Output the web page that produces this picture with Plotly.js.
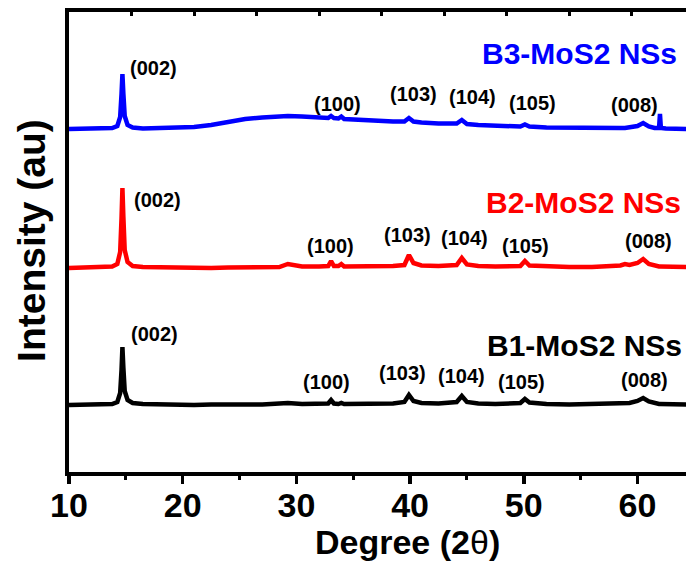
<!DOCTYPE html>
<html>
<head>
<meta charset="utf-8">
<script src="https://cdn.plot.ly/plotly-3.0.1.min.js"></script>
<style>html,body{margin:0;padding:0;background:#fff;}#chart{width:686px;height:564px;}</style>
</head>
<body>
<div id="chart"></div>
<script>
// 2-theta grid (degrees)
const twoTheta = [10, 11, 12, 13, 13.8, 14.25, 14.5, 14.62, 14.7, 14.78, 14.9, 15.15, 15.6, 16.5, 18, 19.5, 21, 22.5, 24, 25.5, 27, 28.5, 29.25, 30.5, 32, 32.8, 33.05, 33.3, 33.7, 33.95, 34.2, 35.5, 37, 38.5, 39.5, 39.9, 40.3, 41, 42.5, 44.1, 44.55, 45.0, 46, 47.5, 49.7, 50.1, 50.5, 52, 54, 56, 57.5, 58.5, 58.9, 59.3, 60.0, 60.5, 61.0, 61.5, 61.9, 61.98, 62.06, 62.5, 63.5, 64.3];

// intensities (a.u.) above each pattern's own baseline
const b1Intensity = [0, 0.5, 0, 0.5, 1, 3, 12, 35, 58, 38, 14, 5, 2, 1, 0.5, 0.5, 0, 0.5, 0, 0.5, 0.5, 1, 2, 1, 1, 1.5, 5, 1.5, 1, 2, 1, 1, 1, 1.5, 3, 10, 4, 2, 1.5, 3, 9, 3, 1.5, 1, 2, 6, 2.5, 1, 0.5, 1, 1, 1.5, 2, 2, 4, 7, 3.5, 1.5, 1, 1, 1, 0.5, 0.5, 0.5];
const b2Intensity = [0, 0.5, 0, 0.5, 1.5, 4, 16, 50, 80, 52, 18, 6, 2, 1, 0.5, 0, 0.5, 0, 0.5, 0.5, 0.5, 1, 4, 1.5, 1.5, 2, 7, 2, 2, 4, 1.5, 1.5, 1.5, 2, 3, 13, 5, 2.5, 2, 3, 10, 3.5, 2, 1.5, 2, 7, 2.5, 1.5, 1, 1, 1.5, 2.5, 4, 3, 5, 9, 4, 2, 1.5, 1.5, 1.5, 1, 1, 1];
const b3Intensity = [0, 0, 0.5, 0, 1, 3, 12, 35, 55, 36, 13, 4, 1.5, 0.5, 1, 1, 2, 4, 7, 10, 11.5, 12.5, 13, 12.5, 11.5, 11, 13, 11, 10.5, 12.5, 10, 9, 8, 7.5, 7.5, 11, 7.5, 6.5, 5.5, 5.5, 9, 5, 4, 3, 2.5, 4.5, 2.5, 1.5, 1, 1, 1, 1, 1, 1.5, 3, 6, 2.5, 1, 1, 15, 1, 0.5, 0.5, 0];

// vertical stacking offsets (a.u.)
const stackOffsets = {B1: 67, B2: 204, B3: 343};

const sampleNames = ["B1-MoS2 NSs", "B2-MoS2 NSs", "B3-MoS2 NSs"];
const sampleColors = ["#000000", "#ff0000", "#0000ff"];

const xTickVals = [10, 20, 30, 40, 50, 60];
const topTickVals = [15.5, 21, 26.5, 32, 37.5, 43, 48.5, 54, 59.5];
const xRange = [10, 64.27];

// reflection labels: [text, x (deg), y (a.u.)]
const hklLabels = ["(002)", "(100)", "(103)", "(104)", "(105)", "(008)"];
const b1LabelX = [17.56, 32.69, 39.29, 44.56, 49.84, 60.66];
const b1LabelY = [138, 90, 99, 96, 90, 92];
const b2LabelX = [17.74, 33.04, 39.73, 44.83, 50.19, 61.01];
const b2LabelY = [272, 226, 237, 234, 226, 231];
const b3LabelX = [17.39, 33.66, 40.26, 45.53, 50.81, 59.78];
const b3LabelY = [404, 368, 378, 375, 369, 367];
const nameLabelX = [55.38, 55.21, 54.94];
const nameLabelY = [127, 270, 419];

const FONT = "Liberation Sans, Arial, sans-serif";

function shift(arr, off) { return arr.map(v => v + off); }

const series = [
  {name: sampleNames[0], y: shift(b1Intensity, stackOffsets.B1), color: sampleColors[0]},
  {name: sampleNames[1], y: shift(b2Intensity, stackOffsets.B2), color: sampleColors[1]},
  {name: sampleNames[2], y: shift(b3Intensity, stackOffsets.B3), color: sampleColors[2]}
];

const traces = series.map(s => ({
  type: "scatter", mode: "lines", x: twoTheta, y: s.y, name: s.name,
  line: {color: s.color, width: 4.5}, showlegend: false, hoverinfo: "skip"
}));
// helper traces so the overlay axes are drawn
traces.push({type: "scatter", mode: "lines", x: [null], y: [null], xaxis: "x2", yaxis: "y", showlegend: false, hoverinfo: "skip"});
traces.push({type: "scatter", mode: "lines", x: [null], y: [null], xaxis: "x3", yaxis: "y", showlegend: false, hoverinfo: "skip"});

const annotations = [];
[[b1LabelX, b1LabelY], [b2LabelX, b2LabelY], [b3LabelX, b3LabelY]].forEach(([lx, ly]) => {
  hklLabels.forEach((t, i) => {
    annotations.push({text: t, x: lx[i], y: ly[i], xref: "x", yref: "y", showarrow: false,
      xanchor: "center", yanchor: "middle",
      font: {family: FONT, size: 20, color: "#000", weight: "bold"}});
  });
});
sampleNames.forEach((n, i) => {
  annotations.push({text: n, x: nameLabelX[i], y: nameLabelY[i], xref: "x", yref: "y", showarrow: false,
    xanchor: "center", yanchor: "middle",
    font: {family: FONT, size: 30, color: sampleColors[i], weight: "bold"}});
});
// axis titles
annotations.push({text: "Degree (2<span style='font-weight:normal'>θ</span>)", xref: "paper", yref: "paper",
  x: 0.5486, y: -0.152, xanchor: "center", yanchor: "middle", showarrow: false,
  font: {family: FONT, size: 34, color: "#000", weight: "bold"}});
annotations.push({text: "Intensity (au)", xref: "paper", yref: "paper", textangle: -90,
  x: -0.062, y: 0.504, xanchor: "center", yanchor: "middle", showarrow: false,
  font: {family: FONT, size: 39, color: "#000", weight: "bold"}});

const layout = {
  width: 686, height: 564,
  margin: {l: 69, r: 0, t: 12, b: 92, pad: 0},
  paper_bgcolor: "#fff", plot_bgcolor: "#fff",
  showlegend: false,
  xaxis: {
    range: xRange, tickvals: xTickVals, ticktext: xTickVals.map(String),
    ticks: "", showline: true, linewidth: 4, linecolor: "#000",
    showgrid: false, zeroline: false,
    tickfont: {family: FONT, size: 34, color: "#000", weight: "bold"}
  },
  xaxis2: {
    overlaying: "x", side: "top", range: xRange, tickvals: topTickVals,
    ticks: "inside", ticklen: 4, tickwidth: 3, tickcolor: "#000",
    showticklabels: false, showline: true, linewidth: 4, linecolor: "#000",
    showgrid: false, zeroline: false
  },
  xaxis3: {
    overlaying: "x", side: "bottom", anchor: "y", range: xRange, tickvals: xTickVals,
    ticks: "outside", ticklen: 8, tickwidth: 3.5, tickcolor: "#000",
    minor: {ticks: "outside", ticklen: 4, tickwidth: 3, dtick: 5, tick0: 5, tickcolor: "#000", showgrid: false},
    showticklabels: false, showline: true, linewidth: 4, linecolor: "#000",
    showgrid: false, zeroline: false
  },
  yaxis: {
    range: [0, 460], showline: true, linewidth: 4, linecolor: "#000",
    showticklabels: false, ticks: "", showgrid: false, zeroline: false
  },
  annotations: annotations
};

Plotly.newPlot("chart", traces, layout, {displayModeBar: false, staticPlot: true});
</script>
</body>
</html>
